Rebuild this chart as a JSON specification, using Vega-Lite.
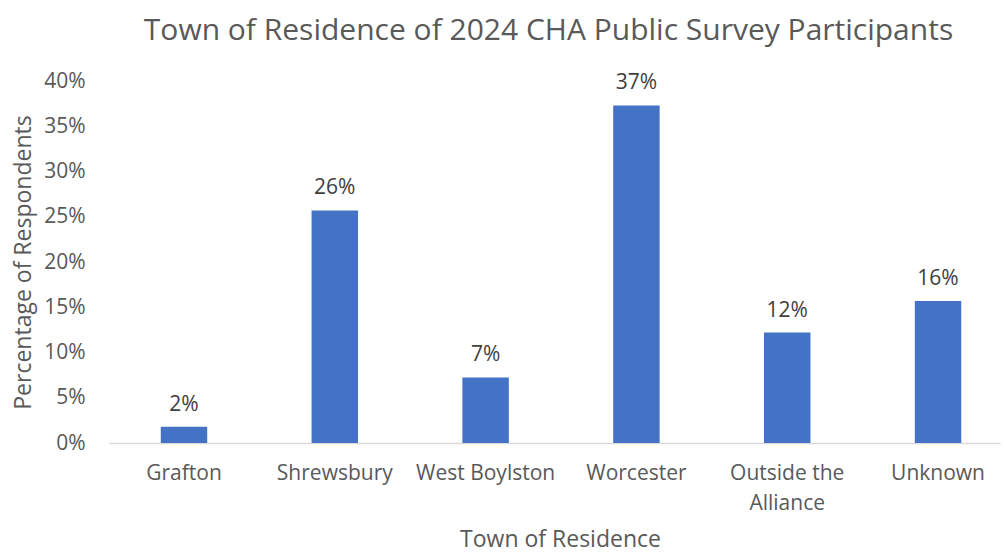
{
  "$schema": "https://vega.github.io/schema/vega-lite/v6.json",
  "width": 891,
  "height": 362,
  "autosize": "none",
  "padding": {"left": 109, "top": 81, "right": 4, "bottom": 109},
  "background": "white",
  "config": {
    "view": {"stroke": null},
    "font": "Open Sans"
  },
  "title": {
    "text": "Town of Residence of 2024 CHA Public Survey Participants",
    "fontSize": 30,
    "font": "Open Sans",
    "fontWeight": "normal",
    "color": "#595959",
    "anchor": "middle",
    "dx": -6,
    "offset": 24
  },
  "data": {
    "values": [
      {"town": "Grafton", "pct": 0.018, "label": "2%"},
      {"town": "Shrewsbury", "pct": 0.257, "label": "26%"},
      {"town": "West Boylston", "pct": 0.0725, "label": "7%"},
      {"town": "Worcester", "pct": 0.373, "label": "37%"},
      {"town": "Outside the Alliance", "pct": 0.122, "label": "12%"},
      {"town": "Unknown", "pct": 0.157, "label": "16%"}
    ]
  },
  "encoding": {
    "x": {
      "field": "town",
      "type": "nominal",
      "sort": null,
      "scale": {"paddingInner": 0.692, "paddingOuter": 0.3, "align": 0.572},
      "axis": {
        "title": "Town of Residence",
        "titleFontSize": 23,
        "titleFontWeight": "normal",
        "titleColor": "#595959",
        "titlePadding": 15,
        "titleX": 451,
        "labelAngle": 0,
        "labelFontSize": 21,
        "labelColor": "#595959",
        "labelPadding": 19,
        "labelLineHeight": 30,
        "labelExpr": "datum.value == 'Outside the Alliance' ? ['Outside the', 'Alliance'] : datum.value",
        "ticks": false,
        "domainColor": "#d9d9d9",
        "domainWidth": 1.5
      }
    },
    "y": {
      "field": "pct",
      "type": "quantitative",
      "scale": {"domain": [0, 0.4]},
      "axis": {
        "title": "Percentage of Respondents",
        "titleFontSize": 23,
        "titleFontWeight": "normal",
        "titleColor": "#595959",
        "titlePadding": 8,
        "format": ".0%",
        "values": [0, 0.05, 0.1, 0.15, 0.2, 0.25, 0.3, 0.35, 0.4],
        "labelFontSize": 21,
        "labelColor": "#595959",
        "labelPadding": 24,
        "ticks": false,
        "domain": false,
        "grid": false
      }
    }
  },
  "layer": [
    {"mark": {"type": "bar", "color": "#4472C4"}},
    {
      "mark": {"type": "text", "fontSize": 21, "color": "#404040", "baseline": "bottom", "dy": -12},
      "encoding": {"text": {"field": "label"}}
    }
  ]
}
